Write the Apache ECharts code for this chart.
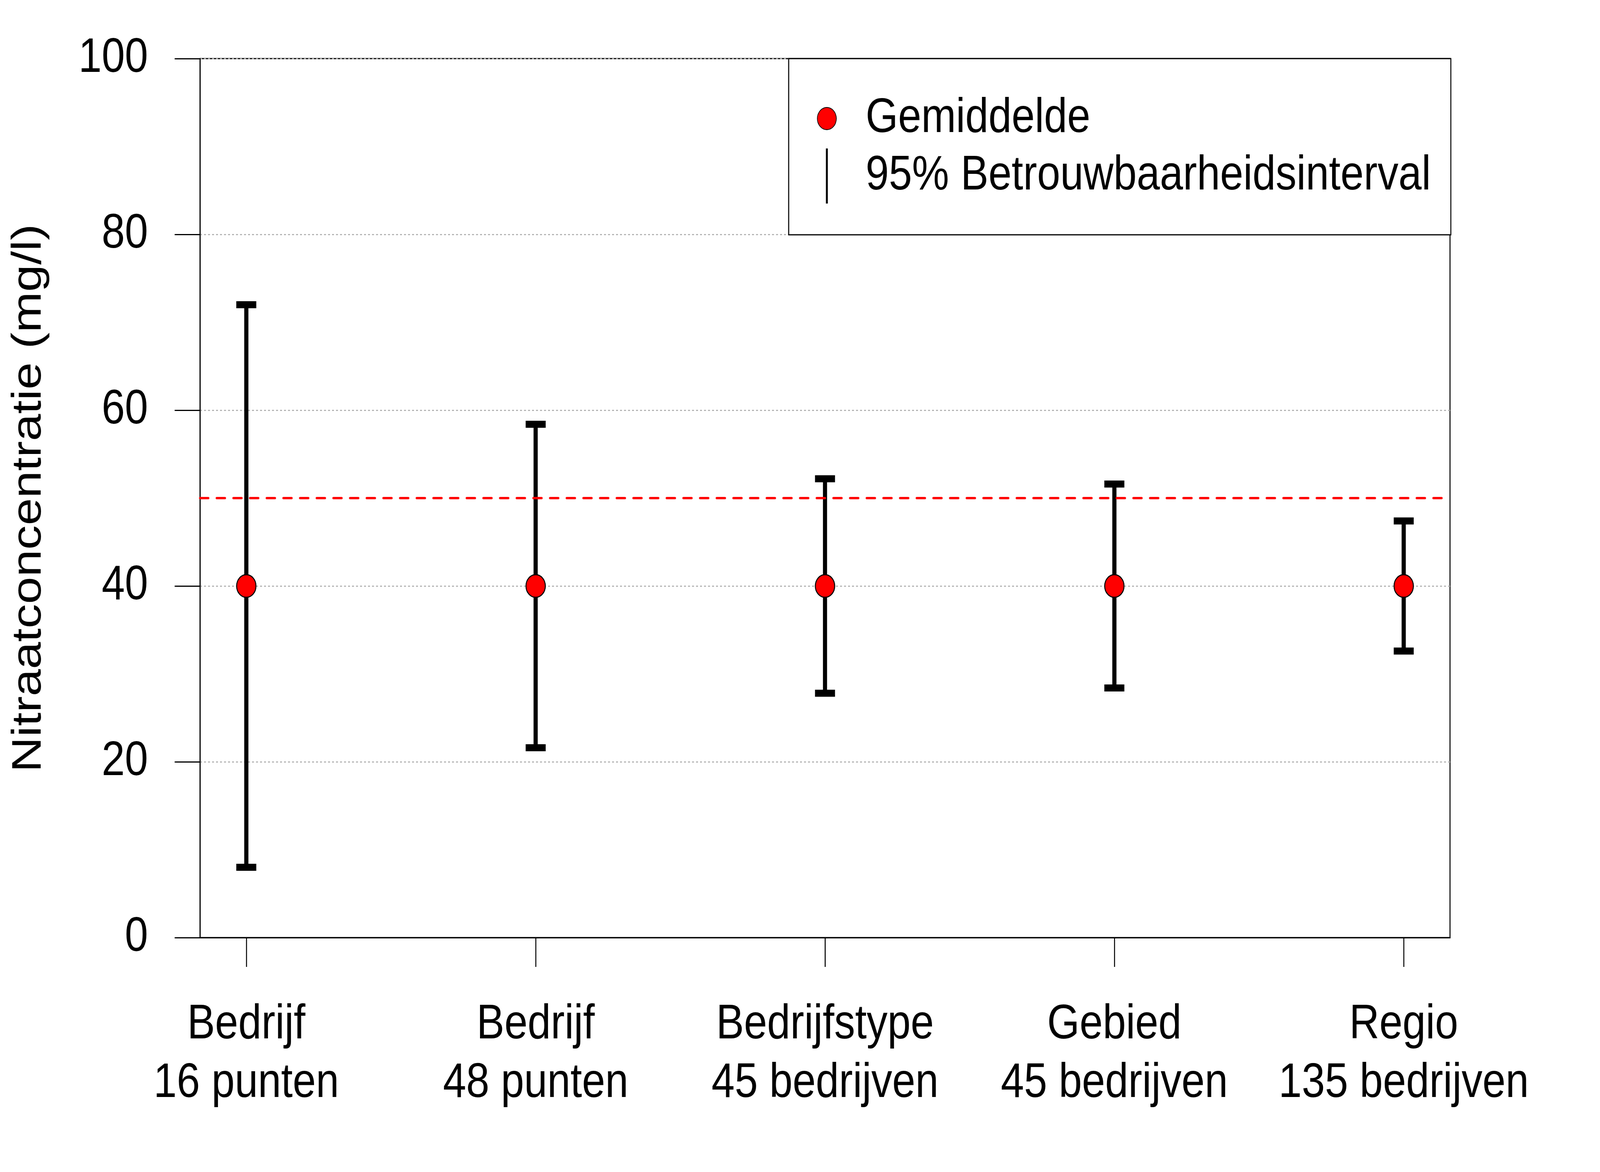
<!DOCTYPE html>
<html>
<head>
<meta charset="utf-8">
<script src="https://cdn.jsdelivr.net/npm/echarts@6.0.0/dist/echarts.min.js"></script>
<style>
  html, body { margin: 0; padding: 0; background: #fff; overflow: hidden; }
  #chart { width: 4800px; height: 3000px; transform-origin: 0 0; }
</style>
</head>
<body>
<div id="chart"></div>
<script>
// ---- data ----
const categoryLine1 = ['Bedrijf', 'Bedrijf', 'Bedrijfstype', 'Gebied', 'Regio'];
const categoryLine2 = ['16 punten', '48 punten', '45 bedrijven', '45 bedrijven', '135 bedrijven'];
const positions = [1, 2, 3, 4, 5];
const means = [40, 40, 40, 40, 40];
const lower = [8.0, 21.6, 27.8, 28.4, 32.6];
const upper = [72.0, 58.4, 52.2, 51.6, 47.4];
const threshold = 50;
const yTicks = [0, 20, 40, 60, 80, 100];
const meanName = 'Gemiddelde';
const ciName = '95% Betrouwbaarheidsinterval';
const yTitle = 'Nitraatconcentratie (mg/l)';

const FONT = 'Liberation Sans';

// fit the 4800x3000 design into whatever window the page gets
const el = document.getElementById('chart');
const sx = window.innerWidth / 4800, sy = window.innerHeight / 3000;
el.style.transform = 'scale(' + sx + ',' + sy + ')';

const chart = echarts.init(el, null, { renderer: 'canvas', width: 4800, height: 3000 });

const option = {
  animation: false,
  backgroundColor: '#fff',
  textStyle: { fontFamily: FONT, color: '#000' },
  grid: {
    left: 600, right: 450, top: 150, bottom: 600,
    show: true, borderColor: '#000', borderWidth: 3, backgroundColor: 'transparent'
  },
  xAxis: {
    type: 'value',
    min: 0.84, max: 5.16,
    axisLine: { show: true, onZero: false, lineStyle: { color: '#000', width: 3 } },
    axisTick: { show: true, length: 75, customValues: positions, lineStyle: { color: '#000', width: 3 } },
    axisLabel: {
      customValues: positions,
      formatter: function (v) {
        const i = Math.round(v) - 1;
        return categoryLine1[i] + '\n' + categoryLine2[i];
      },
      fontSize: 125, lineHeight: 150, margin: 149, color: '#000', fontFamily: FONT
    },
    splitLine: { show: false }
  },
  yAxis: {
    type: 'value',
    min: yTicks[0], max: yTicks[yTicks.length - 1], interval: yTicks[1] - yTicks[0],
    axisLine: { show: true, lineStyle: { color: '#000', width: 3 } },
    axisTick: { show: true, length: 76, lineStyle: { color: '#000', width: 3 } },
    axisLabel: { fontSize: 125, margin: 156, color: '#000', fontFamily: FONT },
    splitLine: { show: true, lineStyle: { color: '#b3b3b3', width: 3, type: [6, 6] } },
    name: yTitle,
    nameLocation: 'middle',
    nameGap: 450,
    nameTextStyle: { fontSize: 125, color: '#000', fontFamily: FONT }
  },
  legend: {
    orient: 'vertical',
    left: 2366, top: 150,
    padding: [91, 60, 80, 85],
    itemGap: 14,
    itemWidth: 57, itemHeight: 141,
    backgroundColor: '#fff', borderColor: '#000', borderWidth: 3,
    textStyle: { fontSize: 125, color: '#000', fontFamily: FONT, padding: [0, 0, 0, 83] },
    selectedMode: false,
    data: [
      { name: meanName, icon: 'circle' },
      { name: ciName, icon: 'path://M0,0h1v25h-1z', itemStyle: { color: '#000', borderWidth: 0 } }
    ]
  },
  series: [
    {
      type: 'line',
      name: 'threshold',
      data: [],
      z: 1,
      silent: true,
      markLine: {
        silent: true,
        symbol: ['none', 'none'],
        label: { show: false },
        lineStyle: { color: '#ff0000', width: 6, type: [25, 25], cap: 'round' },
        emphasis: { disabled: true },
        data: [{ yAxis: threshold }]
      }
    },
    {
      type: 'custom',
      name: ciName,
      z: 3,
      itemStyle: { color: '#000' },
      data: positions.map((p, i) => [p, lower[i], upper[i]]),
      renderItem: function (params, api) {
        const x = api.value(0), lo = api.value(1), hi = api.value(2);
        const pLo = api.coord([x, lo]);
        const pHi = api.coord([x, hi]);
        const hw = 30;
        return {
          type: 'group',
          children: [
            { type: 'line', shape: { x1: pLo[0], y1: pLo[1], x2: pHi[0], y2: pHi[1] }, style: { stroke: '#000', lineWidth: 12.5 } },
            { type: 'line', shape: { x1: pHi[0] - hw, y1: pHi[1], x2: pHi[0] + hw, y2: pHi[1] }, style: { stroke: '#000', lineWidth: 18 } },
            { type: 'line', shape: { x1: pLo[0] - hw, y1: pLo[1], x2: pLo[0] + hw, y2: pLo[1] }, style: { stroke: '#000', lineWidth: 18 } }
          ]
        };
      }
    },
    {
      type: 'scatter',
      name: meanName,
      z: 4,
      symbol: 'circle',
      symbolSize: 58,
      itemStyle: { color: '#ff0000', borderColor: '#000', borderWidth: 3, opacity: 1 },
      data: positions.map((p, i) => [p, means[i]])
    }
  ]
};

chart.setOption(option);
</script>
</body>
</html>
